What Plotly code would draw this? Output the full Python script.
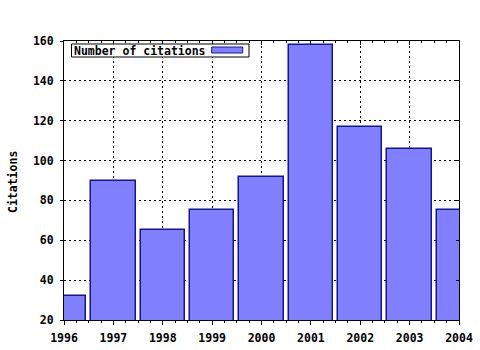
import plotly.graph_objects as go

years = [1996, 1997, 1998, 1999, 2000, 2001, 2002, 2003, 2004]
citations = [32, 90, 65, 75, 92, 158, 117, 106, 75]
y_ticks = [20, 40, 60, 80, 100, 120, 140, 160]
series_name = "Number of citations"
y_title = "Citations"

FONT = dict(family="DejaVu Sans Mono", size=11.5, color="black")
BAR_FILL = "rgb(128,128,255)"
BAR_EDGE = "rgb(20,20,150)"

fig = go.Figure()
fig.add_trace(go.Bar(
    x=years, y=citations, width=0.9,
    marker=dict(color=BAR_FILL, line=dict(color=BAR_EDGE, width=1.5)),
    name=series_name, showlegend=False,
))

grid = dict(showgrid=True, gridcolor="black", gridwidth=1, griddash="2px,3px")

fig.update_layout(
    width=480, height=350,
    margin=dict(l=64, r=21, t=41, b=30, autoexpand=False),
    paper_bgcolor="white", plot_bgcolor="white",
    font=FONT,
    bargap=0,
    xaxis=dict(
        range=[1996, 2004], tickvals=years, ticktext=[f"<b>{y}</b>" for y in years],
        ticks="outside", ticklen=4, tickcolor="black",
        minor=dict(dtick=0.25, tick0=1996, ticks="outside", ticklen=2, tickcolor="black", showgrid=False),
        showline=True, linecolor="black", linewidth=1, mirror=True,
        zeroline=False, ticklabelstandoff=3, **grid,
    ),
    yaxis=dict(
        range=[20, 160], tickvals=y_ticks, ticktext=[f"<b>{v}</b>" for v in y_ticks],
        ticks="outside", ticklen=3, tickcolor="black",
        showline=True, linecolor="black", linewidth=1, mirror=True,
        zeroline=False, ticklabelstandoff=4, **grid,
    ),
    xaxis2=dict(
        overlaying="x", side="top", range=[1996, 2004], tickvals=years,
        showticklabels=False, ticks="inside", ticklen=4, tickcolor="black",
        minor=dict(dtick=0.25, tick0=1996, ticks="inside", ticklen=2, tickcolor="black", showgrid=False),
        showgrid=False, zeroline=False, showline=False,
    ),
    yaxis2=dict(
        overlaying="y", side="right", range=[20, 160], tickvals=y_ticks,
        showticklabels=False, ticks="inside", ticklen=3, tickcolor="black",
        showgrid=False, zeroline=False, showline=False,
    ),
)

# invisible trace so the mirrored tick axes are drawn
fig.add_trace(go.Scatter(x=[None], y=[None], xaxis="x2", yaxis="y2", showlegend=False, hoverinfo="skip"))

# y-axis title
fig.add_annotation(
    text=f"<b>{y_title}</b>", xref="paper", yref="paper",
    x=(13 - 64) / 395, y=(320 - 182) / 279, textangle=-90,
    showarrow=False, font=FONT, xanchor="center", yanchor="middle",
)

# gnuplot-style key: text then sample box
def px(xp):
    return (xp - 64) / 395

def py(yp):
    return (320 - yp) / 279

fig.add_shape(type="rect", xref="paper", yref="paper",
              x0=px(71.5), x1=px(249), y0=py(57), y1=py(44),
              fillcolor="white", line=dict(color="black", width=1), layer="above")
fig.add_shape(type="rect", xref="paper", yref="paper",
              x0=px(211.7), x1=px(242.7), y0=py(53), y1=py(47),
              fillcolor=BAR_FILL, line=dict(color=BAR_EDGE, width=1), layer="above")
fig.add_annotation(
    text=f"<b>{series_name}</b>", xref="paper", yref="paper",
    x=px(73), y=py(50.5), xanchor="left", yanchor="middle",
    showarrow=False, font=FONT, borderpad=0,
)

fig.write_html("out.html")
